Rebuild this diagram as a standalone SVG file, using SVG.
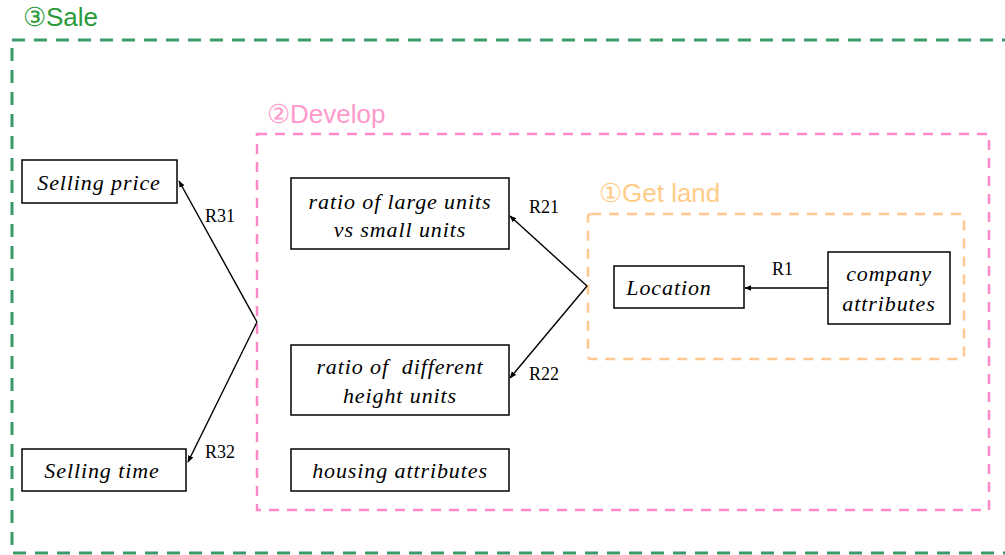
<svg xmlns="http://www.w3.org/2000/svg" width="1005" height="555" viewBox="0 0 1005 555">
<defs>
<style>
.node rect{fill:#fff;stroke:#000;stroke-width:1.5}
.node text{font-family:"Liberation Serif",serif;font-style:italic;font-size:22px;letter-spacing:0.9px;fill:#000;text-anchor:middle}
.lbl{font-family:"Liberation Serif",serif;font-size:18px;fill:#000}
.conn{stroke:#000;stroke-width:1.4;fill:none;marker-end:url(#ah)}
.title{font-family:"Liberation Sans",Arial,sans-serif;font-size:26px}
</style>
<marker id="ah" viewBox="0 0 10 10" refX="9" refY="5" markerWidth="7" markerHeight="7" orient="auto" markerUnits="userSpaceOnUse">
<path d="M0,1 L10,5 L0,9 z" fill="#000"/>
</marker>
</defs>
<rect width="1005" height="555" fill="#fff"/>
<g id="sale">
<path d="M12,40 H1005 M12,48 V553 H1005" stroke="#3a9a68" stroke-width="3" stroke-dasharray="13,9" fill="none"/>
<text class="title" x="23" y="26" fill="#2a9a3a">③Sale</text>
</g>
<g id="develop">
<rect x="257" y="134" width="732" height="376" fill="none" stroke="#ff88c8" stroke-width="2.5" stroke-dasharray="10,8"/>
<text class="title" x="267" y="123" fill="#ff99cc">②Develop</text>
</g>
<g id="getland">
<rect x="588" y="214" width="376" height="145" rx="3" fill="none" stroke="#ffc890" stroke-width="2.5" stroke-dasharray="10,8"/>
<text class="title" x="599" y="202" fill="#ffcc88">①Get land</text>
</g>
<g id="connectors">
<path class="conn" d="M257,322 L179,181"/>
<path class="conn" d="M257,322 L188,462"/>
<path class="conn" d="M587,286 L510,216"/>
<path class="conn" d="M587,286 L510,378"/>
<path class="conn" d="M828,288 L745,288"/>
<text class="lbl" x="205" y="222">R31</text>
<text class="lbl" x="205" y="458">R32</text>
<text class="lbl" x="529" y="213">R21</text>
<text class="lbl" x="529" y="380">R22</text>
<text class="lbl" x="772" y="275">R1</text>
</g>
<g id="selling-price" class="node"><rect x="22" y="160" width="155" height="43"/><text x="99" y="190">Selling price</text></g>
<g id="selling-time" class="node"><rect x="22" y="449" width="164" height="42"/><text x="102" y="478">Selling time</text></g>
<g id="ratio-large" class="node"><rect x="291" y="178" width="218" height="71"/><text x="400" y="209">ratio of large units</text><text x="400" y="237">vs small units</text></g>
<g id="ratio-height" class="node"><rect x="291" y="345" width="218" height="70"/><text x="400" y="374" xml:space="preserve">ratio of  different</text><text x="400" y="403">height units</text></g>
<g id="housing" class="node"><rect x="291" y="449" width="218" height="42"/><text x="400" y="478">housing attributes</text></g>
<g id="location" class="node"><rect x="614" y="266" width="130" height="42"/><text x="669" y="295">Location</text></g>
<g id="company" class="node"><rect x="828" y="252" width="122" height="72"/><text x="889" y="281">company</text><text x="889" y="311">attributes</text></g>
</svg>
